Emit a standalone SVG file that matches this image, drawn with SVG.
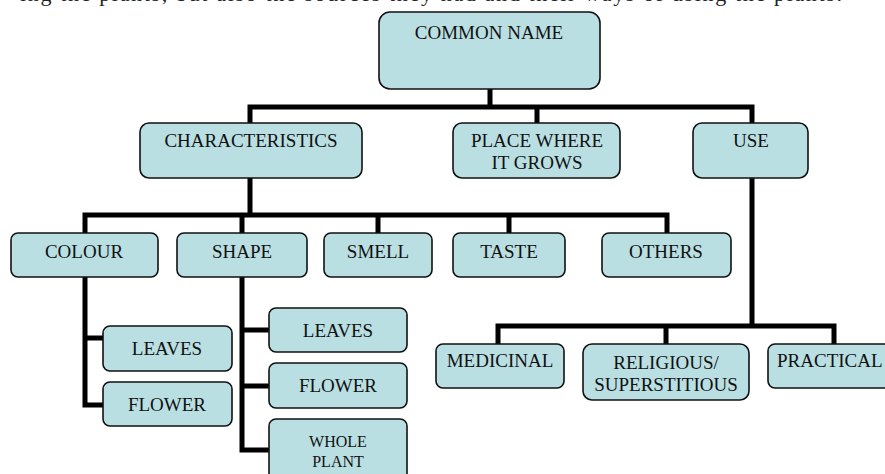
<svg xmlns="http://www.w3.org/2000/svg" width="885" height="474" viewBox="0 0 885 474">
<style>
.box{fill:#b9dfe3;stroke:#111;stroke-width:1.6}
.t{font-family:"Liberation Serif","Times New Roman",serif;font-size:19px;fill:#111;text-anchor:middle}
.s{font-size:16px}
.c{fill:none;stroke:#000;stroke-width:5;stroke-linejoin:miter;stroke-linecap:butt}
.top{font-family:"Liberation Serif","Times New Roman",serif;font-size:22px;fill:#222}
</style>
<rect width="885" height="474" fill="#fff"/>
<text class="top" x="20" y="1" textLength="822" lengthAdjust="spacing">ing the plants, but also the sources they had and their ways of using the plants.</text>
<g id="connectors">
<path class="c" d="M490 89V107M250 123V107H752V123M537 107V123"/>
<path class="c" d="M250 178V215M85 233V215H667V233M242 215V233M378 215V233M509 215V233"/>
<path class="c" d="M85 277V405H103M85 338H103"/>
<path class="c" d="M242 277V450H269M242 330H269M242 386H269"/>
<path class="c" d="M752 178V326M498 344V326H834V344M666 326V344"/>
</g>
<g id="n-common"><rect class="box" x="379" y="12" width="221" height="77" rx="11"/><text class="t" x="489" y="39">COMMON NAME</text></g>
<g id="n-char"><rect class="box" x="140" y="123" width="222" height="55" rx="9"/><text class="t" x="251" y="147">CHARACTERISTICS</text></g>
<g id="n-place"><rect class="box" x="453" y="123" width="167" height="55" rx="9"/><text class="t" x="537" y="147">PLACE WHERE</text><text class="t" x="537" y="169">IT GROWS</text></g>
<g id="n-use"><rect class="box" x="693" y="123" width="115" height="55" rx="9"/><text class="t" x="751" y="147">USE</text></g>
<g id="n-colour"><rect class="box" x="11" y="233" width="147" height="44" rx="7"/><text class="t" x="84" y="258">COLOUR</text></g>
<g id="n-shape"><rect class="box" x="177" y="233" width="130" height="44" rx="7"/><text class="t" x="242" y="258">SHAPE</text></g>
<g id="n-smell"><rect class="box" x="324" y="233" width="108" height="44" rx="7"/><text class="t" x="378" y="258">SMELL</text></g>
<g id="n-taste"><rect class="box" x="453" y="233" width="112" height="44" rx="7"/><text class="t" x="509" y="258">TASTE</text></g>
<g id="n-others"><rect class="box" x="602" y="233" width="129" height="44" rx="7"/><text class="t" x="666" y="258">OTHERS</text></g>
<g id="n-c-leaves"><rect class="box" x="103" y="326" width="129" height="45" rx="7"/><text class="t" x="167" y="355">LEAVES</text></g>
<g id="n-c-flower"><rect class="box" x="103" y="382" width="129" height="44" rx="7"/><text class="t" x="167" y="411">FLOWER</text></g>
<g id="n-s-leaves"><rect class="box" x="269" y="308" width="138" height="44" rx="7"/><text class="t" x="338" y="337">LEAVES</text></g>
<g id="n-s-flower"><rect class="box" x="269" y="363" width="138" height="45" rx="7"/><text class="t" x="338" y="392">FLOWER</text></g>
<g id="n-s-whole"><rect class="box" x="269" y="419" width="138" height="62" rx="7"/><text class="t s" x="338" y="447">WHOLE</text><text class="t s" x="338" y="467">PLANT</text></g>
<g id="n-medicinal"><rect class="box" x="436" y="344" width="128" height="44" rx="7"/><text class="t" x="500" y="367">MEDICINAL</text></g>
<g id="n-religious"><rect class="box" x="583" y="344" width="166" height="56" rx="9"/><text class="t" x="666" y="369">RELIGIOUS/</text><text class="t" x="666" y="391">SUPERSTITIOUS</text></g>
<g id="n-practical"><rect class="box" x="768" y="344" width="130" height="44" rx="7"/><text class="t" x="777" y="367" style="text-anchor:start">PRACTICAL</text></g>
</svg>
